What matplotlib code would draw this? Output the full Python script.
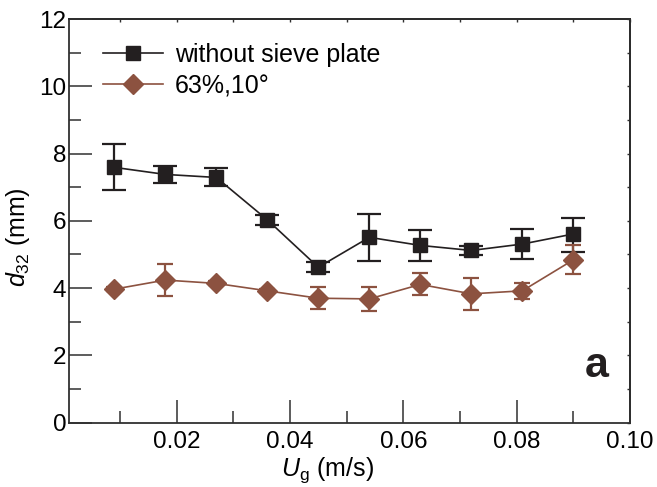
import matplotlib
matplotlib.use("Agg")
import matplotlib.pyplot as plt
from matplotlib.ticker import MultipleLocator, FixedLocator, NullFormatter

plt.rcParams['font.family'] = ['Liberation Sans', 'DejaVu Sans']
plt.rcParams['mathtext.fontset'] = 'custom'
plt.rcParams['mathtext.rm'] = 'Liberation Sans'
plt.rcParams['mathtext.it'] = 'Liberation Sans:italic'

# Superficial gas velocity (m/s)
ug = [0.009, 0.018, 0.027, 0.036, 0.045, 0.054, 0.063, 0.072, 0.081, 0.090]

# Sauter mean diameter without sieve plate (mm), with lower/upper error
d32_plain = [7.59, 7.38, 7.29, 6.03, 4.62, 5.51, 5.27, 5.12, 5.31, 5.61]
err_plain_lo = [0.68, 0.25, 0.26, 0.16, 0.13, 0.70, 0.46, 0.14, 0.44, 0.53]
err_plain_hi = [0.70, 0.26, 0.29, 0.14, 0.15, 0.70, 0.46, 0.12, 0.46, 0.48]

# Sauter mean diameter with 63% open area, 10 degree sieve plate (mm)
d32_sieve = [3.97, 4.24, 4.14, 3.92, 3.70, 3.68, 4.11, 3.83, 3.92, 4.84]
err_sieve_lo = [0.06, 0.46, 0.06, 0.06, 0.32, 0.36, 0.30, 0.48, 0.23, 0.42]
err_sieve_hi = [0.06, 0.49, 0.06, 0.06, 0.33, 0.36, 0.33, 0.47, 0.24, 0.43]

labels = ["without sieve plate", "63%,10\u00b0"]

black = "#231f20"
brown = "#8c5240"

fig = plt.figure(figsize=(6.57, 4.87), dpi=100)
ax = fig.add_axes([69/657, 1 - 422.7/487, (630 - 69)/657, (422.7 - 19)/487])

eb1 = ax.errorbar(ug, d32_plain, yerr=[err_plain_lo, err_plain_hi], color=black,
                  marker='s', markersize=9.5, linewidth=1.2, elinewidth=1.6,
                  capsize=8.5, capthick=1.6, zorder=3)
eb2 = ax.errorbar(ug, d32_sieve, yerr=[err_sieve_lo, err_sieve_hi], color=brown,
                  marker='D', markersize=10, linewidth=1.2, elinewidth=1.6,
                  capsize=5.8, capthick=1.6, zorder=3)

ax.set_xlim(0.001, 0.10)
ax.set_ylim(0, 12)
ax.xaxis.set_major_locator(FixedLocator([0.02, 0.04, 0.06, 0.08, 0.10]))
ax.xaxis.set_minor_locator(FixedLocator([0.01, 0.03, 0.05, 0.07, 0.09]))
ax.set_xticklabels(["0.02", "0.04", "0.06", "0.08", "0.10"])
ax.yaxis.set_major_locator(MultipleLocator(2))
ax.yaxis.set_minor_locator(MultipleLocator(1))

for s in ax.spines.values():
    s.set_linewidth(1.3)
    s.set_color("#303030")

ax.tick_params(which='major', direction='in', length=16.5, width=1.1,
               labelsize=17.5, color="#303030", top=False, right=False)
ax.tick_params(axis='x', which='major', pad=6)
ax.tick_params(axis='y', which='major', pad=2)
ax.tick_params(which='minor', direction='in', length=8.6, width=1.1,
               color="#303030", top=False, right=False)

# small inward ticks along the top and right frame
top = ax.secondary_xaxis('top')
top.xaxis.set_major_locator(MultipleLocator(0.01))
top.xaxis.set_major_formatter(NullFormatter())
top.tick_params(direction='in', length=2.5, width=1.0, color="#303030")
top.spines['top'].set_linewidth(1.3)
right = ax.secondary_yaxis('right')
right.yaxis.set_major_locator(MultipleLocator(1))
right.yaxis.set_major_formatter(NullFormatter())
right.tick_params(direction='in', length=2.5, width=1.0, color="#303030")
right.spines['right'].set_linewidth(1.3)

ax.set_xlabel(r"$U_{\rm g}$ (m/s)", fontsize=18, labelpad=2)
ax.xaxis.set_label_coords(0.46, -0.08)
ax.set_ylabel(r"$d_{32}$ (mm)", fontsize=18, labelpad=4)
ax.yaxis.set_label_coords(-0.066, 0.46)

fig.text(597/657, 1 - 366/487, "a", fontsize=31, fontweight='bold',
         ha='center', va='center', color="#231f20")

# legend shows only the data lines, without error bars
leg = ax.legend([eb1[0], eb2[0]], labels, loc='upper left',
                bbox_to_anchor=(0.03, 0.985), frameon=False,
                fontsize=18, handlelength=2.4, handletextpad=0.45,
                labelspacing=0.3, borderaxespad=0.3)

fig.savefig("out.png", dpi=100)
